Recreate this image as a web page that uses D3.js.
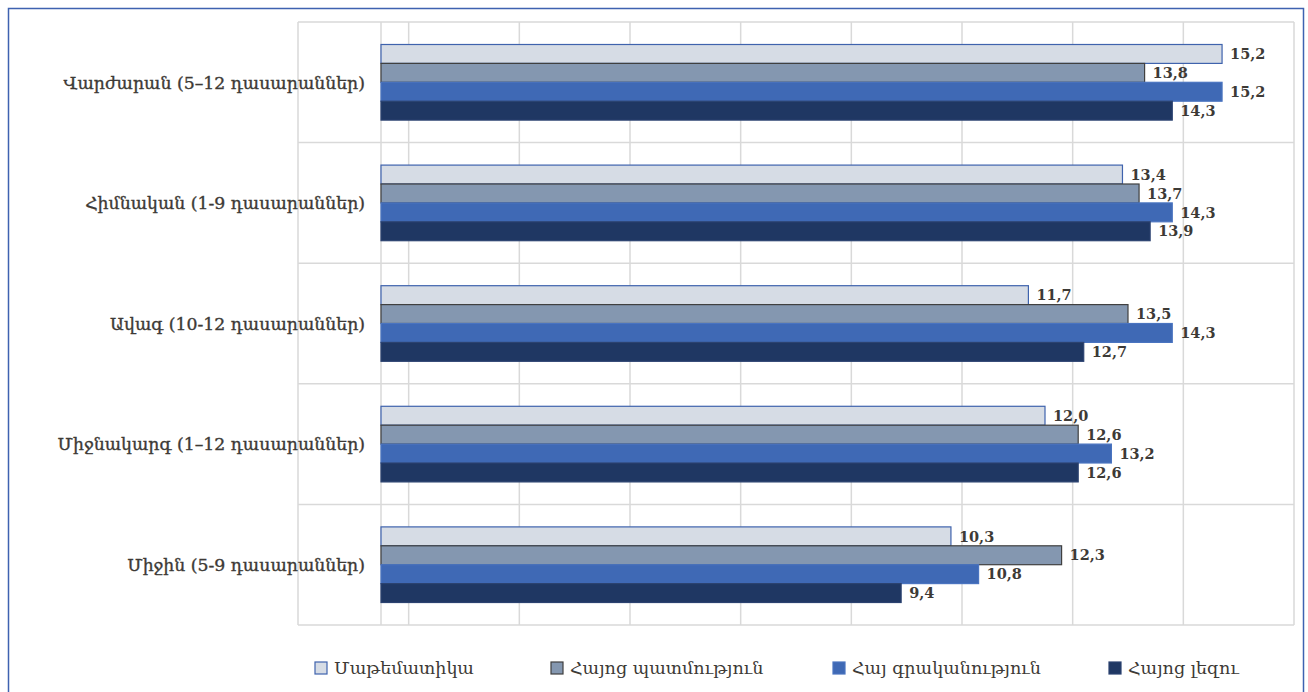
<!DOCTYPE html>
<html>
<head>
<meta charset="utf-8">
<script src="https://cdn.jsdelivr.net/npm/d3@7"></script>
<style>
  html, body { margin: 0; padding: 0; background: #ffffff; }
  svg { display: block; }
</style>
</head>
<body>
<svg id="chart" width="1308" height="692"></svg>
<script>
// ---- Data ----
const categories = [
  "Վարժարան (5–12 դասարաններ)",
  "Հիմնական (1-9 դասարաններ)",
  "Ավագ (10-12 դասարաններ)",
  "Միջնակարգ (1–12 դասարաններ)",
  "Միջին (5-9 դասարաններ)"
];
const seriesNames = ["Մաթեմատիկա", "Հայոց պատմություն", "Հայ գրականություն", "Հայոց լեզու"];
const mathValues = [15.2, 13.4, 11.7, 12.0, 10.3];
const historyValues = [13.8, 13.7, 13.5, 12.6, 12.3];
const literatureValues = [15.2, 14.3, 14.3, 13.2, 10.8];
const languageValues = [14.3, 13.9, 12.7, 12.6, 9.4];
const gridValues = [-1.5, 0.5, 2.5, 4.5, 6.5, 8.5, 10.5, 12.5, 14.5, 16.5];

const seriesValues = [mathValues, historyValues, literatureValues, languageValues];
const fills = ["#d6dce5", "#8497b0", "#3f69b5", "#1f3763"];
const strokes = ["#3f63ad", "#404040", "#4a74c0", "#2b4270"];

const svg = d3.select("#chart");
const textColor = "#3d3a36";
const serif = "'DejaVu Serif', 'Noto Sans', 'DejaVu Sans', serif";

// Outer frame
svg.append("rect")
  .attr("x", 8.5).attr("y", 8.5).attr("width", 1295).attr("height", 720)
  .attr("fill", "none").attr("stroke", "#3e62b0").attr("stroke-width", 1.5);

// ---- Scales ----
const plotLeft = 298, plotRight = 1294, plotTop = 22, plotBottom = 625;
const x = d3.scaleLinear().domain([-1.5, 16.5]).range([plotLeft, plotRight]);
const y = d3.scaleBand().domain(categories).range([plotTop, plotBottom]).paddingInner(0);
const inner = d3.scaleBand().domain(d3.range(seriesNames.length))
  .range([0, y.bandwidth()]).paddingOuter(1.19).paddingInner(0);

const grid = svg.append("g");
// vertical gridlines
grid.selectAll("line.v").data(gridValues).enter().append("line")
  .attr("x1", d => x(d)).attr("x2", d => x(d))
  .attr("y1", plotTop).attr("y2", plotBottom)
  .attr("stroke", "#d9d9d9").attr("stroke-width", 1.5);
// axis line at zero
grid.append("line")
  .attr("x1", x(0)).attr("x2", x(0)).attr("y1", plotTop).attr("y2", plotBottom)
  .attr("stroke", "#d9d9d9").attr("stroke-width", 1.5);
// horizontal category separators
const bounds = categories.map(c => y(c)).concat([plotBottom]);
grid.selectAll("line.h").data(bounds).enter().append("line")
  .attr("x1", plotLeft).attr("x2", plotRight)
  .attr("y1", d => d).attr("y2", d => d)
  .attr("stroke", "#d9d9d9").attr("stroke-width", 1.5);

// ---- Bars ----
const rows = [];
categories.forEach((c, ci) => {
  seriesValues.forEach((vals, si) => rows.push({c, si, v: vals[ci]}));
});

svg.append("g").selectAll("rect").data(rows).enter().append("rect")
  .attr("x", x(0))
  .attr("y", d => y(d.c) + inner(d.si))
  .attr("width", d => x(d.v) - x(0))
  .attr("height", inner.bandwidth())
  .attr("fill", d => fills[d.si])
  .attr("stroke", d => strokes[d.si])
  .attr("stroke-width", 1.2);

// value labels
svg.append("g").selectAll("text").data(rows).enter().append("text")
  .attr("x", d => x(d.v) + 8)
  .attr("y", d => y(d.c) + inner(d.si) + inner.bandwidth() / 2)
  .attr("dy", "0.36em")
  .attr("font-family", "'DejaVu Serif', serif")
  .attr("font-weight", "bold")
  .attr("font-size", 14.5)
  .attr("fill", textColor)
  .text(d => d.v.toFixed(1).replace(".", ","));

// category labels
svg.append("g").selectAll("text").data(categories).enter().append("text")
  .attr("x", 365)
  .attr("y", d => y(d) + y.bandwidth() / 2)
  .attr("dy", "0.36em")
  .attr("text-anchor", "end")
  .attr("font-family", serif)
  .attr("font-size", 17.3)
  .attr("fill", textColor)
  .attr("stroke", textColor)
  .attr("stroke-width", 0.35)
  .text(d => d);

// ---- Legend ----
const legendX = [315, 551, 833, 1109];
const legendY = 668;
const lg = svg.append("g").selectAll("g").data(seriesNames).enter().append("g")
  .attr("transform", (d, i) => `translate(${legendX[i]},${legendY})`);
lg.append("rect")
  .attr("x", 0).attr("y", -6).attr("width", 12).attr("height", 12)
  .attr("fill", (d, i) => fills[i]).attr("stroke", (d, i) => strokes[i]).attr("stroke-width", 1.2);
lg.append("text")
  .attr("x", 19).attr("y", 0).attr("dy", "0.36em")
  .attr("font-family", serif).attr("font-size", 17.5)
  .attr("fill", textColor)
  .text(d => d);
</script>
</body>
</html>
